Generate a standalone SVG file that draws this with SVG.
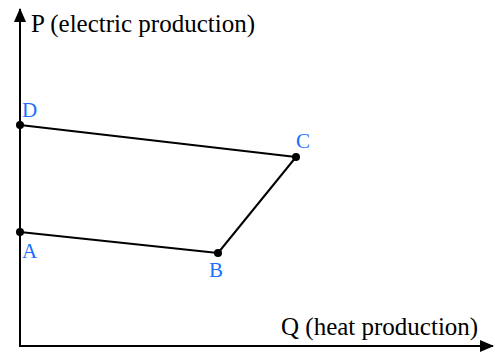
<svg xmlns="http://www.w3.org/2000/svg" width="495" height="356" viewBox="0 0 495 356">
<style>
.ax{stroke:#000;stroke-width:2;fill:none}
.ed{stroke:#000;stroke-width:2;fill:none}
.pt{fill:#000}
text{font-family:'Liberation Serif','Times New Roman',serif}
.lbl{font-size:25px;fill:#000}
.nl{font-size:21px;fill:#1a6fff}
</style>
<defs>
<marker id="arr" viewBox="0 0 14 12" refX="13" refY="6" markerWidth="14" markerHeight="12" markerUnits="userSpaceOnUse" orient="auto">
<path d="M0,0 L14,6 L0,12 Z" fill="#000"/>
</marker>
</defs>
<g id="axes">
<line class="ax" x1="20" y1="346" x2="20" y2="9" marker-end="url(#arr)"/>
<line class="ax" x1="19" y1="346" x2="493" y2="346" marker-end="url(#arr)"/>
<text class="lbl" x="31" y="32">P (electric production)</text>
<text class="lbl" x="281" y="335">Q (heat production)</text>
</g>
<g id="connectors">
<line class="ed" x1="20" y1="125" x2="296" y2="157"/>
<line class="ed" x1="296" y1="157" x2="218" y2="253"/>
<line class="ed" x1="218" y1="253" x2="20" y2="232"/>
</g>
<g id="D"><circle class="pt" cx="20" cy="125" r="4"/><text class="nl" x="22" y="117">D</text></g>
<g id="C"><circle class="pt" cx="296" cy="157" r="4"/><text class="nl" x="296" y="148">C</text></g>
<g id="A"><circle class="pt" cx="20" cy="232" r="4"/><text class="nl" x="22" y="258">A</text></g>
<g id="B"><circle class="pt" cx="218" cy="253" r="4"/><text class="nl" x="209" y="277">B</text></g>
</svg>
